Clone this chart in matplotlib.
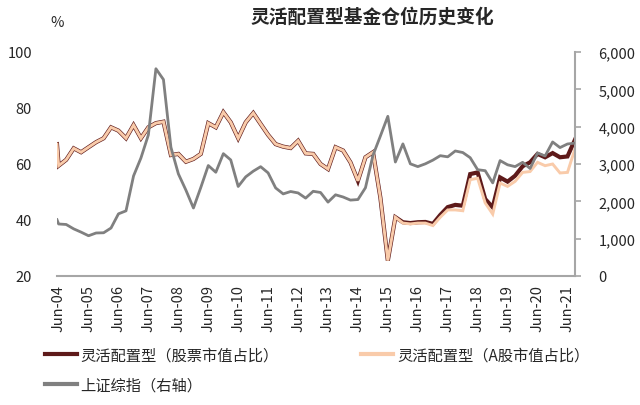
import matplotlib
matplotlib.use("Agg")
import matplotlib.pyplot as plt
import matplotlib.dates as mdates
from matplotlib.ticker import FuncFormatter
import pandas as pd

plt.rcParams['font.family'] = ['Noto Sans CJK SC', 'DejaVu Sans']

# ---------------- data ----------------
first_date = ['2004-06-10']
quarter_dates = pd.date_range('2004-06-30', '2021-09-30', freq='QE')
dates = pd.to_datetime(first_date).append(quarter_dates)

stock_ratio = [67.1,
    59.4, 61.5, 65.6, 64.2, 66.0, 67.8, 69.2, 73.1, 71.9, 69.2,
    73.9, 69.2, 73.1, 74.6, 75.1, 63.2, 63.6, 60.8, 61.8, 63.6,
    74.6, 73.1, 78.5, 74.9, 69.2, 74.9, 78.2, 74.3, 70.4, 67.1,
    66.2, 65.7, 68.3, 63.8, 63.6, 60.0, 58.2, 66.0, 64.8, 60.6,
    54.0, 62.4, 64.2, 48.0, 25.5, 41.0, 39.2, 38.9, 39.2, 39.3,
    38.6, 41.8, 44.6, 45.4, 45.1, 56.4, 57.0, 47.5, 44.5, 55.2,
    53.7, 55.8, 59.2, 60.6, 63.6, 62.4, 63.9, 62.4, 62.7, 68.7]

a_share_ratio = [67.1,
    59.4, 61.5, 65.6, 64.2, 66.0, 67.8, 69.2, 73.1, 71.9, 69.2,
    73.9, 69.2, 73.1, 74.6, 75.1, 63.2, 63.6, 60.8, 61.8, 63.6,
    74.6, 73.1, 78.5, 74.9, 69.2, 74.9, 78.2, 74.3, 70.4, 67.1,
    66.2, 65.7, 68.3, 63.8, 63.6, 60.0, 58.2, 66.0, 64.8, 60.6,
    54.0, 62.4, 64.2, 48.0, 25.5, 41.0, 38.9, 38.6, 38.9, 38.9,
    38.0, 41.0, 43.6, 43.6, 43.3, 54.4, 54.9, 46.1, 42.1, 53.2,
    52.0, 53.8, 57.0, 57.3, 60.6, 59.4, 60.0, 56.8, 57.0, 65.4]

sse_index = [1508,
    1393, 1380, 1262, 1175, 1078, 1152, 1158, 1285, 1665, 1745,
    2680, 3160, 3780, 5552, 5262, 3450, 2736, 2300, 1821, 2373,
    2959, 2779, 3277, 3109, 2398, 2656, 2808, 2928, 2762, 2359,
    2199, 2263, 2225, 2086, 2269, 2237, 1979, 2175, 2116, 2033,
    2048, 2364, 3235, 3748, 4277, 3053, 3539, 3004, 2930, 3005,
    3104, 3223, 3192, 3349, 3307, 3169, 2847, 2821, 2494, 3091,
    2979, 2930, 3045, 2880, 3295, 3215, 3590, 3440, 3536, 3560]

labels = ['灵活配置型（股票市值占比）', '灵活配置型（A股市值占比）', '上证综指（右轴）']
title = '灵活配置型基金仓位历史变化'

# ---------------- style ----------------
c_maroon = '#5E1A1A'
c_peach = '#F9CBAA'
c_gray = '#808080'
c_text = '#262626'
c_axis = '#A6A6A6'

fig = plt.figure(figsize=(6.4, 4.06), dpi=100)
ax = fig.add_axes([57/640, 1-277/406, (575-57)/640, (277-53)/406])
ax2 = ax.twinx()

l1, = ax.plot(dates, stock_ratio, color=c_maroon, lw=3.0, solid_joinstyle='miter', zorder=2)
l2, = ax.plot(dates, a_share_ratio, color=c_peach, lw=2.1, solid_joinstyle='miter', zorder=3)
l3, = ax2.plot(dates, sse_index, color=c_gray, lw=2.0, zorder=3)

ax.set_xlim(dates[0], dates[-1])
ax.set_ylim(20, 100)
ax.set_yticks([20, 40, 60, 80, 100])
ax2.set_ylim(0, 6000)
ax2.set_yticks(range(0, 6001, 1000))
ax2.yaxis.set_major_formatter(FuncFormatter(lambda v, p: f'{v:,.0f}'))

ax.xaxis.set_major_locator(mdates.MonthLocator(bymonth=6, bymonthday=30))
ax.xaxis.set_major_formatter(mdates.DateFormatter('%b-%y'))
for lab in ax.get_xticklabels():
    lab.set_rotation(90)

for s in ['top', 'right', 'left']:
    ax.spines[s].set_visible(False)
ax.spines['bottom'].set_color(c_axis)
ax.spines['bottom'].set_linewidth(1.5)
for s in ['top', 'left', 'bottom']:
    ax2.spines[s].set_visible(False)
ax2.spines['right'].set_color(c_axis)
ax2.spines['right'].set_linewidth(1.5)

ax.tick_params(axis='y', length=0, pad=18, labelsize=10.5, labelcolor=c_text)
ax.tick_params(axis='x', length=0, pad=6, labelsize=10.5, labelcolor=c_text)
ax2.tick_params(axis='y', length=4, width=1.2, color=c_axis, pad=13, labelsize=10.5, labelcolor=c_text)

fig.text(372/640, 1-17/406, title, ha='center', va='center', fontsize=13.5,
         fontweight='bold', color=c_text)
fig.text(57/640, 1-23/406, '%', ha='center', va='center', fontsize=10.5, color=c_text)

h1 = plt.Line2D([], [], color=c_maroon, lw=3)
h2 = plt.Line2D([], [], color=c_peach, lw=3)
h3 = plt.Line2D([], [], color=c_gray, lw=3)
fig.legend([h1, h3, h2], [labels[0], labels[2], labels[1]], ncol=2,
           loc='upper left', bbox_to_anchor=(40/640, 1-343/406), frameon=False,
           fontsize=11, handlelength=2.1, handletextpad=0.25, columnspacing=5.4,
           labelspacing=0.85, labelcolor=c_text, borderaxespad=0, borderpad=0.3)

fig.savefig('out.png', dpi=100)
